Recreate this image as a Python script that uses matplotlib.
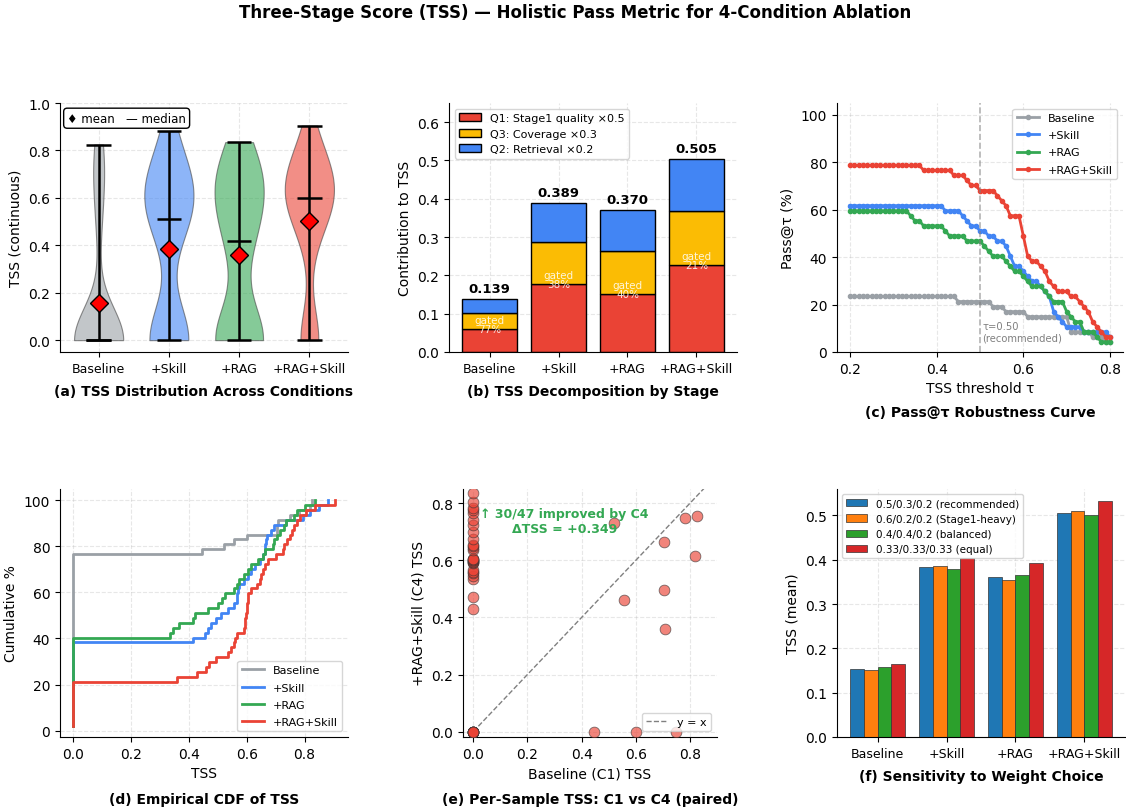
import numpy as np
import matplotlib
matplotlib.use("Agg")
import matplotlib.pyplot as plt

# ---------- data ----------
conditions = ["Baseline", "+Skill", "+RAG", "+RAG+Skill"]
colors = ["#9aa0a6", "#4285f4", "#34a853", "#ea4335"]

# per-sample TSS (n=47), baseline and +RAG+Skill are paired
tss_baseline = [0.0] * 36 + [0.445, 0.52, 0.555, 0.60, 0.705, 0.705, 0.708,
                             0.75, 0.78, 0.82, 0.825]
tss_rag_skill = [0.0] * 7 + [
    0.43, 0.47, 0.535, 0.545, 0.555, 0.56, 0.565, 0.59, 0.595, 0.595,
    0.598, 0.60, 0.60, 0.605, 0.605, 0.635, 0.645, 0.65, 0.655, 0.675,
    0.70, 0.725, 0.74, 0.765, 0.775, 0.785, 0.805, 0.835, 0.905,
] + [0.0, 0.73, 0.46, 0.0, 0.665, 0.495, 0.36, 0.0, 0.75, 0.615, 0.755]
tss_skill = [0.0] * 18 + [
    0.415, 0.455, 0.465, 0.475, 0.495, 0.51, 0.535, 0.555, 0.565, 0.568,
    0.57, 0.575, 0.59, 0.605, 0.615, 0.63, 0.645, 0.655, 0.662, 0.665,
    0.668, 0.67, 0.685, 0.695, 0.735, 0.795, 0.82, 0.85, 0.88,
]
tss_rag = [0.0] * 19 + [
    0.335, 0.345, 0.365, 0.415, 0.42, 0.465, 0.50, 0.515, 0.525, 0.555,
    0.565, 0.575, 0.59, 0.605, 0.615, 0.64, 0.655, 0.665, 0.69, 0.695,
    0.705, 0.715, 0.73, 0.735, 0.765, 0.775, 0.80, 0.835,
]
samples = [tss_baseline, tss_skill, tss_rag, tss_rag_skill]
delta_tss = 0.349

# stage decomposition (weighted contributions)
q1_stage1 = [0.061, 0.178, 0.152, 0.228]
q3_coverage = [0.040, 0.110, 0.112, 0.139]
q2_retrieval = [0.038, 0.101, 0.106, 0.138]

# weight sensitivity
weight_schemes = ["0.5/0.3/0.2 (recommended)", "0.6/0.2/0.2 (Stage1-heavy)",
                  "0.4/0.4/0.2 (balanced)", "0.33/0.33/0.33 (equal)"]
weight_means = [
    [0.154, 0.383, 0.360, 0.506],
    [0.151, 0.386, 0.355, 0.511],
    [0.158, 0.380, 0.365, 0.502],
    [0.164, 0.403, 0.392, 0.533],
]
weight_colors = ["#1f77b4", "#ff7f0e", "#2ca02c", "#d62728"]

# ---------- figure ----------
W, H = 1126, 812
fig = plt.figure(figsize=(W / 100, H / 100), dpi=100)


def box(l, t, r, b):
    return [l / W, 1 - b / H, (r - l) / W, (b - t) / H]


axA = fig.add_axes(box(60, 104, 348, 353))
axB = fig.add_axes(box(449, 104, 737, 353))
axC = fig.add_axes(box(837, 104, 1123, 353))
axD = fig.add_axes(box(60, 490, 348, 738))
axE = fig.add_axes(box(463, 490, 717, 738))
axF = fig.add_axes(box(837, 490, 1125, 738))

for ax in (axA, axB, axC, axD, axE, axF):
    ax.spines["top"].set_visible(False)
    ax.spines["right"].set_visible(False)
    ax.grid(True, ls="--", alpha=0.3)
    ax.set_axisbelow(True)
    ax.tick_params(axis="y", labelsize=10)
    ax.tick_params(axis="x", labelsize=10)


def panel_title(ax, text, y):
    ax.text(0.5, y, text, transform=ax.transAxes, ha="center", va="center",
            fontsize=10, fontweight="bold")


# (a) violins
pos = np.arange(1, 5)
vp = axA.violinplot([np.array(s) for s in samples], positions=pos, widths=0.7,
                    showmeans=False, showmedians=True, showextrema=True)
for body, c in zip(vp["bodies"], colors):
    body.set_facecolor(c)
    body.set_edgecolor("#444444")
    body.set_linewidth(0.8)
    body.set_alpha(0.6)
for key in ("cmaxes", "cmins", "cbars", "cmedians"):
    vp[key].set_color("black")
    vp[key].set_linewidth(1.8)
means = [np.mean(s) for s in samples]
axA.plot(pos, means, "D", color="red", mec="black", mew=1, ms=9, ls="none", zorder=4)
axA.set_xticks(pos)
axA.set_xticklabels(conditions, fontsize=9)
axA.set_xlim(0.45, 4.55)
axA.set_ylim(-0.05, 1.0)
axA.set_ylabel("TSS (continuous)", fontsize=10)
axA.text(0.025, 0.965, "\u2666 mean   \u2014 median", transform=axA.transAxes,
         va="top", ha="left", fontsize=8.5,
         bbox=dict(boxstyle="round,pad=0.3", fc="white", ec="black", lw=1))
panel_title(axA, "(a) TSS Distribution Across Conditions", -0.157)

# (b) stacked decomposition
x = np.arange(len(conditions))
q1 = np.array(q1_stage1)
q3 = np.array(q3_coverage)
q2 = np.array(q2_retrieval)
axB.bar(x, q1, 0.8, color="#ea4335", edgecolor="black", lw=1,
        label="Q1: Stage1 quality \u00d70.5")
axB.bar(x, q3, 0.8, bottom=q1, color="#fbbc04", edgecolor="black", lw=1,
        label="Q3: Coverage \u00d70.3")
axB.bar(x, q2, 0.8, bottom=q1 + q3, color="#4285f4", edgecolor="black", lw=1,
        label="Q2: Retrieval \u00d70.2")
totals = q1 + q3 + q2
for i, t in enumerate(totals):
    axB.text(i, t + 0.01, f"{t:.3f}", ha="center", va="bottom",
             fontsize=9.5, fontweight="bold")
    gated = np.mean(np.array(samples[i]) == 0) * 100
    axB.text(i, q1[i] + 0.011, f"gated\n{gated:.0f}%", ha="center", va="center",
             fontsize=7.5, color="white", alpha=0.85, linespacing=0.9)
axB.set_xticks(x)
axB.set_xticklabels(conditions, fontsize=9)
axB.set_ylim(0, 0.65)
axB.set_ylabel("Contribution to TSS", fontsize=10)
axB.legend(loc="upper left", fontsize=8)
panel_title(axB, "(b) TSS Decomposition by Stage", -0.157)

# (c) pass@tau
taus = np.round(np.arange(0.2, 0.8001, 0.01), 2)
for s, c, name in zip(samples, colors, conditions):
    arr = np.array(s)
    pass_rate = [np.mean(arr >= t - 1e-9) * 100 for t in taus]
    axC.plot(taus, pass_rate, "-o", color=c, lw=2, ms=3, label=name)
axC.axvline(0.5, color="gray", ls="--", lw=1.2, alpha=0.6)
axC.text(0.505, 4, "\u03c4=0.50\n(recommended)", fontsize=7.2, color="gray",
         va="bottom", ha="left")
axC.set_ylim(0, 105)
axC.set_xlabel("TSS threshold \u03c4", fontsize=10)
axC.set_ylabel("Pass@\u03c4 (%)", fontsize=10)
axC.legend(loc="upper right", fontsize=8, labelspacing=0.65)
panel_title(axC, "(c) Pass@\u03c4 Robustness Curve", -0.241)

# (d) ECDF
for s, c, name in zip(samples, colors, conditions):
    arr = np.sort(np.array(s))
    cum = np.arange(1, len(arr) + 1) / len(arr) * 100
    axD.plot(arr, cum, drawstyle="steps-post", color=c, lw=2, label=name)
axD.set_xlabel("TSS", fontsize=10)
axD.set_ylabel("Cumulative %", fontsize=10)
axD.legend(loc="lower right", fontsize=8, labelspacing=0.65)
panel_title(axD, "(d) Empirical CDF of TSS", -0.25)

# (e) paired scatter
c1 = np.array(tss_baseline)
c4 = np.array(tss_rag_skill)
axE.scatter(c1, c4, s=60, color="#ea4335", alpha=0.65, edgecolor="#333333",
            linewidth=0.6, zorder=3)
axE.plot([0, 0.9], [0, 0.9], ls="--", color="gray", lw=1, label="y = x")
improved = int(np.sum(c4 > c1))
axE.text(0.336, 0.737, f"\u2191 {improved}/{len(c1)} improved by C4\n"
         f"\u0394TSS = +{delta_tss:.3f}", ha="center", va="center",
         fontsize=9, fontweight="bold", color="#34a853")
axE.set_xlim(-0.038, 0.9)
axE.set_ylim(-0.019, 0.85)
axE.set_xlabel("Baseline (C1) TSS", fontsize=10)
axE.set_ylabel("+RAG+Skill (C4) TSS", fontsize=10)
axE.legend(loc="lower right", fontsize=8)
panel_title(axE, "(e) Per-Sample TSS: C1 vs C4 (paired)", -0.25)

# (f) weight sensitivity
bw = 0.2
for k, (lab, vals, c) in enumerate(zip(weight_schemes, weight_means, weight_colors)):
    axF.bar(x + (k - 1.5) * bw, vals, bw, color=c, edgecolor="#333333", lw=0.5,
            label=lab)
axF.set_xticks(x)
axF.set_xticklabels(conditions, fontsize=9)
axF.set_ylabel("TSS (mean)", fontsize=10)
axF.legend(loc="upper left", fontsize=7.5)
panel_title(axF, "(f) Sensitivity to Weight Choice", -0.157)

fig.suptitle("Three-Stage Score (TSS) \u2014 Holistic Pass Metric for 4-Condition Ablation",
             fontsize=12, fontweight="bold", x=0.5107, y=0.984, va="center")

fig.savefig("out.png", dpi=100)
